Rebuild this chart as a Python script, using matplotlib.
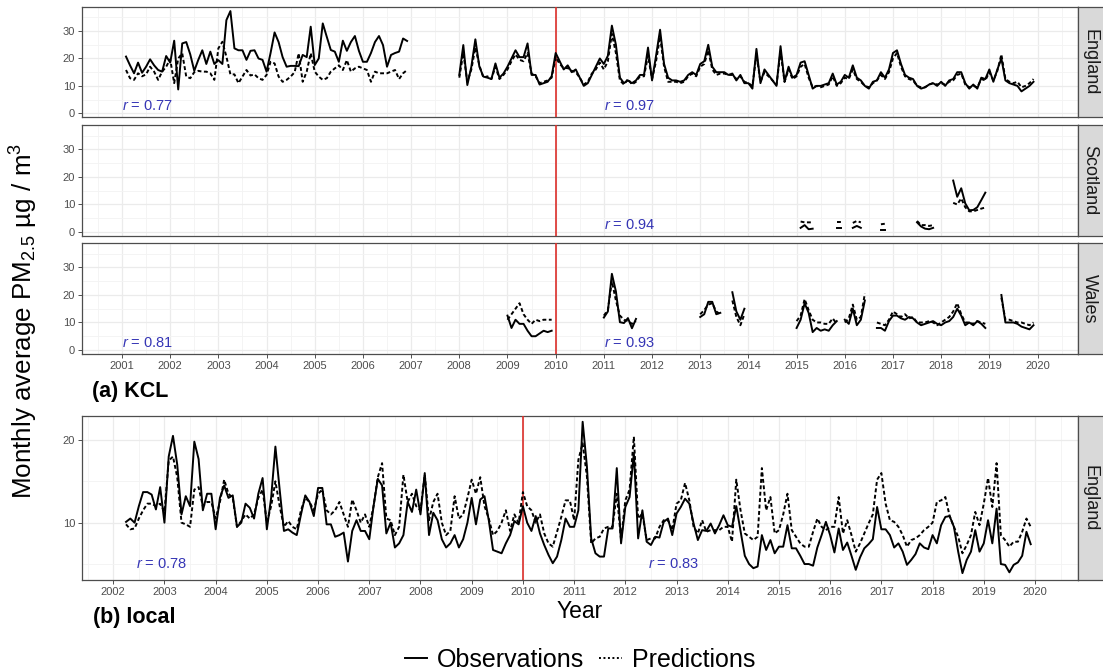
import matplotlib
matplotlib.use('Agg')
import matplotlib.pyplot as plt
import numpy as np
from matplotlib.lines import Line2D

plt.rcParams['font.family'] = ['Liberation Sans', 'DejaVu Sans']
plt.rcParams['mathtext.fontset'] = 'custom'
plt.rcParams['mathtext.rm'] = 'Liberation Sans'
plt.rcParams['mathtext.it'] = 'Liberation Sans:italic'
plt.rcParams['mathtext.bf'] = 'Liberation Sans:bold'

# ---------------- data (monthly means, ug/m3) ----------------
# KCL England, segment 1: Feb 2001 - Dec 2006
eng1_start = (2001, 2)
eng1_obs = [20.7, 17.5, 14.6, 18.5, 14.8, 17.0, 19.7, 17.5, 15.8, 15.2, 20.9,
            18.5, 26.5, 8.7, 25.5, 26.0, 21.5, 15.5, 19.5, 23.0, 18.0, 22.5, 18.0,
            19.4, 18.0, 34.0, 37.3, 23.7, 23.0, 23.0, 19.5, 22.8, 23.0, 20.0, 19.5,
            15.2, 22.0, 29.5, 26.0, 20.5, 17.0, 17.3, 17.3, 17.2, 21.3, 20.5, 31.6,
            17.6, 20.0, 32.8, 27.9, 23.1, 22.5, 18.8, 26.5, 22.8, 26.0, 28.2, 22.8,
            18.8, 18.8, 22.0, 26.0, 28.2, 24.9, 17.0, 21.3, 22.0, 22.5, 27.3, 26.4]
eng1_pred = [15.8, 12.8, 12.2, 14.6, 13.5, 14.2, 17.0, 15.2, 12.2, 15.2, 17.0,
             19.7, 11.0, 20.0, 21.9, 13.4, 12.8, 15.0, 15.5, 15.2, 15.2, 14.6, 12.2,
             23.7, 26.1, 20.7, 14.2, 14.2, 11.0, 13.4, 15.8, 13.8, 14.2, 12.8, 12.2,
             14.0, 18.8, 18.2, 13.4, 11.5, 12.2, 13.4, 15.0, 21.9, 11.5, 15.2, 21.9,
             15.2, 13.4, 12.2, 12.8, 15.2, 16.4, 17.5, 15.8, 19.4, 15.2, 16.4, 17.0,
             16.4, 15.8, 11.5, 15.2, 14.6, 14.6, 14.6, 15.2, 15.8, 12.5, 14.6, 15.8]

# KCL England, segment 2: Jan 2008 - Dec 2019
eng2_start = (2008, 1)
eng2_obs = [14.0, 24.9, 10.3, 17.0, 27.0, 17.0, 13.4, 13.0, 12.5, 18.2, 13.0, 14.5,
            17.0, 20.0, 23.0, 20.5, 20.5, 25.5, 14.0, 14.0, 10.5, 11.0, 11.5, 13.5,
            22.0, 19.0, 16.0, 17.5, 15.0, 16.0, 13.0, 10.0, 11.0, 14.0, 17.0, 20.0,
            18.0, 21.0, 32.0, 25.0, 13.0, 11.0, 12.0, 11.0, 12.0, 14.0, 14.0, 24.0,
            12.0, 21.0, 30.5, 18.0, 13.0, 12.0, 12.0, 11.5, 12.0, 14.0, 15.0, 14.0,
            18.0, 19.0, 25.0, 17.0, 15.0, 15.0, 15.0, 14.0, 14.5, 12.0, 14.0, 11.0,
            11.0, 9.0, 23.5, 11.0, 16.0, 14.0, 12.0, 10.0, 24.5, 11.5, 17.0, 13.0,
            14.0, 18.5, 19.0, 14.0, 9.0, 10.0, 10.0, 10.5, 11.0, 14.5, 10.5, 11.5,
            14.0, 13.0, 17.5, 13.0, 12.0, 10.0, 9.0, 11.5, 12.0, 15.0, 13.0, 16.0,
            22.0, 23.0, 18.0, 14.0, 13.0, 12.5, 10.0, 9.0, 9.5, 10.5, 11.0, 10.0,
            11.5, 10.0, 12.0, 12.5, 15.0, 15.0, 11.0, 9.0, 10.5, 9.0, 13.0, 12.5,
            16.0, 11.5, 16.0, 20.0, 12.0, 11.0, 10.5, 10.0, 8.0, 9.0, 10.0, 11.5]
eng2_pred = [13.0, 22.0, 11.5, 16.0, 24.0, 17.5, 13.0, 13.5, 12.5, 17.0, 12.5, 14.0,
             16.0, 19.0, 21.5, 19.5, 19.0, 22.0, 14.5, 13.5, 11.0, 11.5, 12.0, 13.0,
             20.5, 18.0, 16.5, 16.5, 15.5, 15.0, 13.0, 10.5, 11.5, 14.5, 16.0, 18.5,
             16.0, 19.0, 29.0, 22.0, 12.0, 10.5, 12.5, 10.5, 11.5, 13.5, 13.5, 21.0,
             12.5, 19.0, 28.0, 17.0, 11.5, 11.5, 11.5, 11.0, 11.5, 13.5, 14.5, 13.5,
             17.0, 18.0, 23.0, 16.0, 14.0, 14.5, 14.5, 14.0, 14.0, 12.5, 13.5, 11.5,
             11.0, 10.0, 21.5, 11.5, 15.0, 13.5, 12.0, 10.5, 22.5, 11.5, 16.0, 12.5,
             13.5, 17.0, 18.0, 13.0, 9.5, 10.0, 9.5, 10.0, 10.5, 13.5, 10.0, 11.0,
             13.0, 12.5, 16.0, 12.5, 11.5, 10.0, 9.5, 11.0, 12.0, 14.0, 12.5, 15.0,
             20.0, 22.0, 17.0, 13.5, 12.5, 12.0, 10.0, 9.5, 9.5, 10.5, 11.0, 10.5,
             11.0, 10.5, 11.5, 12.0, 14.0, 14.5, 10.5, 9.5, 10.0, 9.5, 12.5, 12.0,
             15.0, 12.0, 15.5, 21.5, 12.5, 11.5, 11.0, 11.5, 9.5, 10.0, 11.0, 12.5]

# KCL Scotland: short runs (start year, start month, obs, pred)
sco_segments = [
    ((2015, 2), [1.5, 2.5, 1.0, 1.2], [3.8, 3.5, 3.5, 3.5]),
    ((2015, 11), [1.5, 1.5], [3.5, 3.5]),
    ((2016, 3), [1.5, 2.2, 1.5], [3.3, 4.0, 3.5]),
    ((2016, 10), [0.8, 0.8], [2.8, 3.0]),
    ((2017, 7), [3.5, 2.0, 1.2, 1.0, 1.5], [4.0, 2.5, 2.5, 2.2, 2.5]),
    ((2018, 4), [18.7, 12.8, 15.9, 10.4, 7.9, 8.0, 9.0, 11.6, 14.3],
                [10.6, 10.0, 12.2, 9.0, 7.5, 7.5, 8.0, 8.5, 8.9]),
]

# KCL Wales
wal_segments = [
    ((2009, 1), [12.5, 8.0, 11.0, 9.5, 9.5, 7.0, 5.0, 5.0, 6.0, 7.0, 6.5, 7.0],
                [11.0, 13.0, 15.0, 17.0, 13.0, 11.0, 9.5, 11.0, 10.5, 11.0, 11.0, 11.0]),
    ((2011, 1), [11.8, 14.0, 27.7, 21.3, 10.1, 9.8, 11.6, 7.9, 11.3],
                [12.5, 14.5, 25.0, 18.0, 12.5, 11.0, 10.5, 9.5, 10.5]),
    ((2013, 1), [12.0, 13.0, 17.5, 17.5, 13.0, 13.5], [13.0, 14.5, 16.5, 17.0, 14.0, 13.0]),
    ((2013, 9), [21.0, 14.0, 11.0, 15.0], [18.0, 12.0, 9.0, 13.0]),
    ((2015, 1), [8.0, 11.0, 17.0, 13.5, 6.5, 8.0, 7.0, 7.5, 7.0, 9.0, 10.5],
                [10.5, 12.5, 18.5, 14.5, 11.0, 10.0, 10.0, 9.5, 9.5, 11.5, 9.5]),
    ((2016, 1), [11.0, 9.5, 15.0, 9.0, 11.0, 18.0], [10.0, 11.5, 16.5, 11.0, 12.0, 20.5]),
    ((2016, 9), [8.0, 8.0, 7.0, 10.5, 12.5, 12.5, 11.5, 11.0, 12.0, 11.5, 10.0, 9.0, 9.5, 10.0,
                 10.5, 9.5, 9.0, 10.0, 10.5, 12.0, 15.0, 12.5, 9.0, 10.0, 9.0, 10.5, 9.5, 8.0],
                [10.0, 9.5, 9.0, 11.0, 14.0, 13.0, 12.0, 13.0, 11.5, 12.0, 10.0, 10.0, 10.0, 10.5,
                 10.0, 9.0, 10.0, 11.0, 12.0, 14.0, 17.0, 13.0, 10.0, 10.0, 9.5, 10.5, 10.0, 9.5]),
    ((2019, 4), [20.0, 10.0, 10.0, 10.0, 9.5, 8.5, 8.0, 7.5, 9.0],
                [19.0, 11.0, 11.0, 10.5, 10.0, 10.0, 9.5, 9.0, 10.0]),
]

# local England: Apr 2002 - Dec 2019
loc_start = (2002, 4)
loc_obs = [10.1, 10.5, 10.0, 12.0, 13.7, 13.7, 13.4, 11.6, 14.3,
           10.0, 18.0, 20.5, 17.0, 11.0, 13.2, 12.0, 19.8, 17.7, 11.5, 13.5, 13.5,
           9.2, 13.0, 14.5, 13.0, 13.3, 9.5, 10.0, 12.3, 11.8, 10.5, 13.5, 15.4,
           9.2, 13.0, 19.2, 14.0, 9.0, 9.2, 8.8, 8.5, 11.0, 13.3, 12.5, 10.8,
           14.2, 14.2, 9.8, 9.8, 8.3, 8.5, 8.8, 5.3, 9.0, 10.3, 9.0, 9.0,
           8.0, 12.0, 15.3, 14.5, 8.7, 10.0, 7.0, 7.5, 8.5, 12.5, 11.3, 14.0,
           11.0, 16.0, 8.5, 11.2, 10.3, 8.0, 7.0, 7.5, 8.5, 7.0, 8.0, 10.0,
           13.0, 9.8, 12.8, 13.2, 10.3, 6.7, 6.5, 6.3, 7.5, 8.5, 10.2, 9.8,
           12.0, 10.0, 9.0, 10.8, 8.7, 7.3, 6.1, 5.1, 5.9, 7.9, 10.5, 9.5,
           9.5, 11.5, 22.2, 16.8, 8.1, 6.3, 5.9, 5.9, 9.3, 9.3, 16.6, 7.5,
           11.9, 13.1, 18.4, 8.1, 11.5, 7.7, 7.3, 8.3, 8.2, 10.1, 10.5, 8.5,
           11.1, 11.9, 12.9, 12.3, 9.9, 7.9, 9.1, 9.0, 9.9, 8.7, 9.7, 10.9,
           9.7, 9.5, 12.0, 9.0, 6.0, 5.0, 4.5, 4.7, 8.5, 6.7, 7.9, 6.3,
           7.1, 7.1, 9.7, 6.9, 6.9, 6.0, 5.0, 5.0, 4.8, 7.0, 8.5, 10.1,
           8.5, 6.4, 9.3, 6.7, 7.6, 6.0, 4.3, 5.8, 6.9, 7.4, 8.0, 11.9,
           9.2, 9.2, 8.5, 7.0, 7.5, 6.5, 4.9, 5.5, 6.2, 7.5, 7.0, 6.8,
           8.5, 7.5, 9.7, 10.7, 10.8, 9.5, 6.5, 3.9, 5.5, 6.5, 9.1, 6.5,
           7.5, 10.3, 7.5, 11.7, 5.0, 4.9, 4.0, 4.9, 5.2, 6.0, 8.9, 7.4]
loc_pred = [9.8, 9.2, 9.3, 10.5, 11.5, 12.3, 12.3, 12.0, 12.3,
            11.3, 17.5, 18.0, 15.5, 10.0, 9.8, 9.5, 14.0, 14.3, 12.0, 12.5, 12.5,
            10.5, 12.5, 15.2, 13.5, 13.0, 9.5, 10.2, 11.0, 10.5, 11.0, 13.0, 14.0,
            10.0, 12.0, 15.0, 12.0, 9.5, 10.2, 9.5, 9.2, 11.5, 13.0, 12.5, 11.5,
            13.5, 14.0, 11.5, 11.0, 11.5, 12.5, 11.0, 9.5, 12.8, 11.5, 10.0, 11.0,
            9.5, 12.0, 15.5, 17.2, 10.5, 10.3, 8.5, 9.5, 15.8, 12.5, 13.5, 12.0,
            11.5, 15.8, 10.3, 12.5, 13.5, 10.0, 8.5, 9.0, 13.2, 10.5, 11.0, 13.0,
            15.2, 13.5, 15.5, 12.0, 10.5, 8.5, 9.0, 10.0, 11.5, 9.0, 11.0, 10.0,
            13.7, 12.0, 11.5, 10.0, 11.0, 8.7, 7.5, 7.1, 8.9, 10.7, 12.7, 12.7,
            10.3, 17.6, 19.6, 15.6, 7.5, 8.1, 8.3, 9.3, 9.5, 9.5, 13.5, 7.9,
            12.7, 14.0, 20.4, 10.5, 11.1, 7.9, 8.1, 8.1, 9.5, 10.3, 10.3, 9.1,
            12.3, 12.7, 14.8, 12.7, 9.5, 8.7, 10.3, 8.9, 9.1, 9.1, 9.1, 9.5,
            9.5, 7.7, 15.2, 11.5, 8.7, 8.3, 7.9, 8.3, 16.6, 11.5, 13.1, 8.7,
            9.1, 11.0, 13.5, 9.1, 8.3, 7.5, 7.1, 7.1, 8.9, 10.5, 9.5, 9.1,
            9.5, 9.5, 13.1, 8.7, 10.3, 8.5, 6.5, 7.5, 8.7, 9.9, 11.0, 15.2,
            16.0, 12.3, 10.3, 10.1, 9.5, 8.5, 7.1, 7.9, 8.1, 8.5, 9.1, 9.5,
            10.0, 12.5, 12.7, 13.1, 10.8, 9.5, 8.3, 6.3, 7.3, 8.5, 11.3, 9.7,
            12.3, 15.4, 11.9, 17.2, 8.5, 7.9, 7.1, 7.7, 7.7, 8.9, 10.5, 9.5]

r_labels_kcl = {'England': ('0.77', '0.97'), 'Scotland': (None, '0.94'), 'Wales': ('0.81', '0.93')}
r_labels_loc = ('0.78', '0.83')
years_kcl = list(range(2001, 2021))
years_loc = list(range(2002, 2021))


def month_axis(start, n):
    y, m = start
    return y + (m - 1 + np.arange(n)) / 12.0


# ---------------- layout helpers ----------------
W, H = 1103, 672
fig = plt.figure(figsize=(W / 100, H / 100), dpi=100)

LEFT, RIGHT = 82, 1078
STRIP_W = 26
GRID = '#EBEBEB'
BORDER = '#4D4D4D'
RED = '#DC2F2A'
BLUE = '#3535B5'


def px_axes(left, top, right, bottom):
    return fig.add_axes([left / W, 1 - bottom / H, (right - left) / W, (bottom - top) / H])


def style_panel(ax, xlim, ylim, yticks, years, show_x):
    step = yticks[1] - yticks[0]
    ax.set_xticks(years)
    ax.set_xticks([y - 0.5 for y in years] + [years[-1] + 0.5], minor=True)
    ax.set_yticks(yticks)
    ax.set_yticks([t - step / 2 for t in yticks] + [yticks[-1] + step / 2], minor=True)
    # limits after the ticks so the minor ticks do not widen the view
    ax.set_xlim(*xlim)
    ax.set_ylim(*ylim)
    ax.grid(True, which='major', color=GRID, lw=0.9)
    ax.grid(True, which='minor', color='#F3F3F3', lw=0.6)
    ax.set_axisbelow(True)
    for s in ax.spines.values():
        s.set_color(BORDER)
        s.set_linewidth(0.9)
    ax.tick_params(which='minor', length=0)
    ax.tick_params(axis='y', which='major', length=3, width=0.6, color='#333333',
                   labelsize=8, labelcolor='#4D4D4D', pad=2)
    if show_x:
        ax.tick_params(axis='x', which='major', length=3, width=0.6, color='#333333',
                       labelsize=8, labelcolor='#4D4D4D', pad=2)
        ax.set_xticklabels([str(y) for y in years])
    else:
        ax.tick_params(axis='x', which='major', length=0)
        ax.set_xticklabels([])
    ax.axvline(2010, color=RED, lw=1.2, zorder=3)


def add_strip(top, bottom, label):
    sx = px_axes(RIGHT, top, RIGHT + STRIP_W, bottom)
    sx.set_facecolor('#D9D9D9')
    sx.set_xticks([])
    sx.set_yticks([])
    for s in sx.spines.values():
        s.set_color(BORDER)
        s.set_linewidth(0.9)
    sx.text(0.45, 0.5, label, rotation=-90, ha='center', va='center',
            fontsize=13, color='#1A1A1A', transform=sx.transAxes)


def draw_pair(ax, t, obs, pred):
    ax.plot(t, obs, color='black', lw=1.4, solid_joinstyle='round', zorder=4)
    ax.plot(t, pred, color='black', lw=1.4, ls=(0, (2, 1.3)), zorder=4)


kcl_xlim = (2000.17, 2020.84)
kcl_ylim = (-1.46, 38.9)
panels = [('England', 6.7, 117.3), ('Scotland', 125, 236), ('Wales', 243, 354)]

for name, top, bottom in panels:
    ax = px_axes(LEFT, top, RIGHT, bottom)
    style_panel(ax, kcl_xlim, kcl_ylim, [0, 10, 20, 30], years_kcl, name == 'Wales')
    add_strip(top, bottom, name)
    if name == 'England':
        draw_pair(ax, month_axis(eng1_start, len(eng1_obs)), eng1_obs, eng1_pred)
        draw_pair(ax, month_axis(eng2_start, len(eng2_obs)), eng2_obs, eng2_pred)
    else:
        segs = sco_segments if name == 'Scotland' else wal_segments
        for start, obs, pred in segs:
            draw_pair(ax, month_axis(start, len(obs)), obs, pred)
    r_pre, r_post = r_labels_kcl[name]
    if r_pre:
        ax.text(2001.0, 2.7, '$r$ = ' + r_pre, color=BLUE, fontsize=10.5, ha='left', va='center')
    ax.text(2011.0, 2.7, '$r$ = ' + r_post, color=BLUE, fontsize=10.5, ha='left', va='center')

# local panel
ax4 = px_axes(LEFT, 416, RIGHT, 580)
style_panel(ax4, (2001.39, 2020.84), (3.07, 22.9), [10, 20], years_loc, True)
add_strip(416, 580, 'England')
draw_pair(ax4, month_axis(loc_start, len(loc_obs)), loc_obs, loc_pred)
ax4.text(2002.45, 5.0, '$r$ = ' + r_labels_loc[0], color=BLUE, fontsize=10.5, ha='left', va='center')
ax4.text(2012.45, 5.0, '$r$ = ' + r_labels_loc[1], color=BLUE, fontsize=10.5, ha='left', va='center')

# annotations
fig.text(92 / W, 1 - 392 / H, '(a) KCL', fontsize=15.5, fontweight='bold', va='center', ha='left')
fig.text(93 / W, 1 - 617 / H, '(b) local', fontsize=15.5, fontweight='bold', va='center', ha='left')
fig.text((LEFT + RIGHT) / 2 / W, 1 - 611 / H, 'Year', fontsize=16.5, ha='center', va='center')
fig.text(24 / W, 1 - 321 / H, r'Monthly average PM$_{2.5}$ µg / m$^3$', fontsize=18.7,
         rotation=90, ha='center', va='center')

handles = [Line2D([], [], color='black', lw=1.4),
           Line2D([], [], color='black', lw=1.4, ls=(0, (1, 1.3)))]
fig.legend(handles, ['Observations', 'Predictions'], loc='center',
           bbox_to_anchor=((LEFT + RIGHT) / 2 / W, 1 - 660 / H), ncol=2, frameon=False,
           fontsize=18, handlelength=0.9, handletextpad=0.4, columnspacing=0.6)

fig.savefig('out.png', dpi=100)
